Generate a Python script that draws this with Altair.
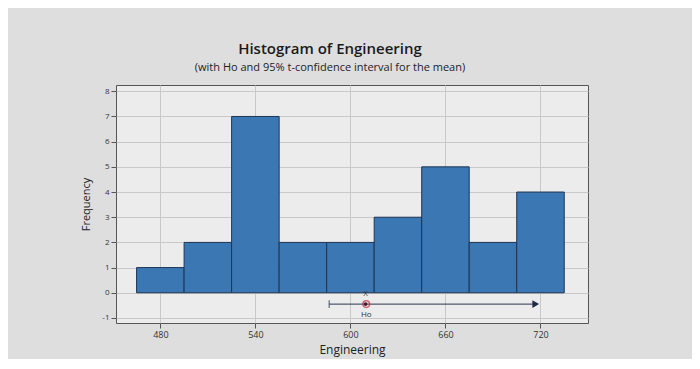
import altair as alt
import pandas as pd

# Histogram data (bin midpoints and frequencies)
midpoints = [480, 510, 540, 570, 600, 630, 660, 690, 720]
counts = [1, 2, 7, 2, 2, 3, 5, 2, 4]
bin_width = 30

# Confidence interval / hypothesis markers
ci_lower = [586.6]
ci_upper = [717.0]
mean_val = [609.6]
ho_val = [610.0]
ci_level = [-0.45]

x_ticks = [480, 540, 600, 660, 720]
y_ticks = [-1, 0, 1, 2, 3, 4, 5, 6, 7, 8]

bars = pd.DataFrame({
    "start": [m - bin_width / 2 for m in midpoints],
    "end": [m + bin_width / 2 for m in midpoints],
    "count": counts,
})
ci = pd.DataFrame({"lo": ci_lower, "hi": ci_upper, "y": ci_level})
mean_df = pd.DataFrame({"x": mean_val, "y": ci_level})
ho_df = pd.DataFrame({"x": ho_val, "y": ci_level})

xscale = alt.Scale(domain=[452, 750], nice=False, zero=False)
yscale = alt.Scale(domain=[-1.2, 8.25], nice=False, zero=False)

xaxis = alt.Axis(values=x_ticks, title="Engineering", labelFontSize=9, titleFontSize=12,
                 titleFontWeight="normal", labelColor="#333", titleColor="#222",
                 grid=True, gridColor="#c8c8c8", tickColor="#555", domain=False,
                 labelPadding=2, titlePadding=5, labelOverlap=False)
yaxis = alt.Axis(values=y_ticks, title="Frequency", labelFontSize=8, titleFontSize=11,
                 titleFontWeight="normal", labelColor="#333", titleColor="#222",
                 grid=True, gridColor="#c8c8c8", tickColor="#555", domain=False,
                 titlePadding=10, labelOverlap=False, labelFlush=False,
                 format="d", labelExpr="replace(datum.label, '\u2212', '-')")


def X(f):
    return alt.X(f, scale=xscale, axis=xaxis)


def Y(f):
    return alt.Y(f, scale=yscale, axis=yaxis)


hist = alt.Chart(bars).mark_rect(color="#3b77b3", stroke="#1d3553", strokeWidth=1).encode(
    x=X("start:Q"), x2="end:Q", y=Y("count:Q"), y2=alt.datum(0),
)
ci_line = alt.Chart(ci).mark_rule(color="#2b3550", strokeWidth=1).encode(
    x=X("lo:Q"), x2="hi:Q", y=Y("y:Q")
)
ci_tick = alt.Chart(ci).mark_point(shape="stroke", color="#2b3550", size=60, angle=90,
                                    strokeWidth=1.2).encode(x=X("lo:Q"), y=Y("y:Q"))
ci_arrow = alt.Chart(ci).mark_point(shape="triangle-right", filled=True, color="#1e2a4a",
                                     size=60, opacity=1).encode(x=X("hi:Q"), y=Y("y:Q"))
ho_mark = alt.Chart(ho_df).mark_point(shape="circle", color="#c0304a", size=45,
                                       strokeWidth=1.5).encode(x=X("x:Q"), y=Y("y:Q"))
mean_mark = alt.Chart(mean_df).mark_point(shape="circle", filled=True, color="#3a2030",
                                           size=14, opacity=1).encode(x=X("x:Q"), y=Y("y:Q"))
mean_lbl = alt.Chart(mean_df).mark_text(text="X", fontSize=8, color="#333", dy=-10).encode(
    x=X("x:Q"), y=Y("y:Q"))
ho_lbl = alt.Chart(ho_df).mark_text(text="Ho", fontSize=8, color="#333", dy=11).encode(
    x=X("x:Q"), y=Y("y:Q"))

chart = alt.layer(hist, ci_line, ci_tick, ci_arrow, ho_mark, mean_mark, mean_lbl, ho_lbl).properties(
    width=472,
    height=238,
    autosize=alt.AutoSizeParams(type="none"),
    padding={"left": 108, "top": 77, "right": 104, "bottom": 36},
    title=alt.TitleParams(
        "Histogram of Engineering",
        subtitle="(with Ho and 95% t-confidence interval for the mean)",
        anchor="middle", dx=-22, fontSize=15, font="Open Sans", fontWeight=600,
        subtitleFont="Open Sans", subtitleFontSize=11, subtitleColor="#222",
        color="#1a1a1a", offset=12, subtitlePadding=5,
    ),
).configure(
    background="#dedede",
    font="Open Sans",
).configure_view(
    fill="#ececec", stroke="#555", strokeWidth=1
)

chart.save("out.html", embed_options={"renderer": "svg", "actions": False})
